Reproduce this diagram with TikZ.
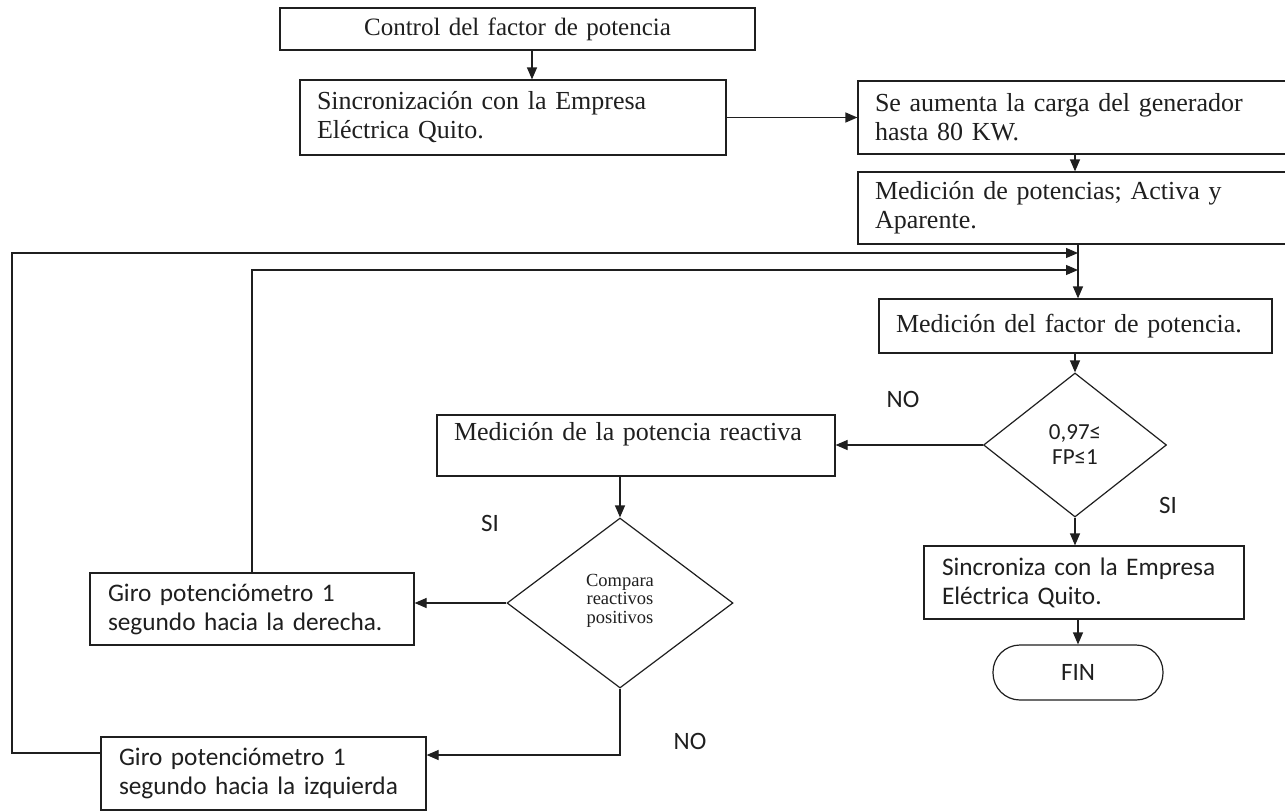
\documentclass[tikz,border=0pt]{standalone}
\usepackage{fontspec}
\setmainfont{Liberation Serif}
\newfontfamily\calibri{Carlito}
\usetikzlibrary{arrows.meta,shapes.geometric}
\begin{document}
\begin{tikzpicture}[x=1pt,y=-1pt,
  line width=1.2pt, color=black!88,
  arr/.style={-{Triangle[length=12pt,width=10pt]}},
  box/.style={draw, rectangle, inner xsep=17pt, inner ysep=0pt, align=left,
    font=\fontsize{26}{29}\selectfont},
  sbox/.style={box, inner xsep=18pt, font=\calibri\fontsize{25.3}{29}\selectfont},
  dec/.style={draw, diamond, inner sep=0pt, align=center},
  lbl/.style={font=\calibri\fontsize{25}{25}\selectfont}
]
\fill[white] (0,0) rectangle (1285,811);
\useasboundingbox (0,0) rectangle (1285,811);

% process boxes
\node[box, text width=441pt, minimum height=42pt, align=center,
  font=\fontsize{25}{29}\selectfont] (b1) at (517.5,29) {Control del factor de potencia};
\node[box, text width=392pt, minimum height=75pt] (b2) at (513,117.5) {\mbox{Sincronización con la Empresa}\\\mbox{Eléctrica Quito.}};
\node[box, text width=408pt, minimum height=73pt] (b3) at (1079,117.5) {\mbox{Se aumenta la carga del generador}\\\mbox{hasta 80 KW.}};
\node[box, text width=408pt, minimum height=72pt] (b4) at (1079,208) {\mbox{Medición de potencias; Activa y}\\\mbox{Aparente.}};
\node[box, text width=359pt, minimum height=54pt] (b5) at (1075.5,326) {\mbox{Medición del factor de potencia.}};
\node[box, text width=364pt, minimum height=61pt, text height=18pt, text depth=29pt] (b6) at (636,445.5) {\mbox{Medición de la potencia reactiva}};
\node[sbox, text width=288pt, minimum height=72pt] (b7) at (252,609) {\mbox{Giro potenciómetro 1}\\\mbox{segundo hacia la derecha.}};
\node[sbox, text width=289pt, minimum height=73pt] (b8) at (263.5,773.5) {\mbox{Giro potenciómetro 1}\\\mbox{segundo hacia la izquierda}};
\node[sbox, text width=284pt, minimum height=73pt] (b9) at (1084,582.5) {\mbox{Sincroniza con la Empresa}\\\mbox{Eléctrica Quito.}};
\node[draw, rounded corners=27pt, minimum width=170pt, minimum height=55pt,
  font=\calibri\fontsize{25}{25}\selectfont] (fin) at (1078,672.5) {FIN};

% decisions
\node[dec, minimum width=183pt, minimum height=144pt,
  font=\calibri\fontsize{23}{25}\selectfont] (d1) at (1075,445) {0,97≤\\FP≤1};
\node[dec, minimum width=226pt, minimum height=170pt,
  font=\fontsize{18.5}{18.5}\selectfont] (d2) at (620,603) {Compara\\reactivos\\positivos\\[-10pt]\mbox{}};

% branch labels
\node[lbl] (no1) at (903,399) {NO};
\node[lbl] (si1) at (1168,505) {SI};
\node[lbl] (si2) at (490,523) {SI};
\node[lbl] (no2) at (690,741) {NO};

% junction points of the return loops
\coordinate (m1) at (1078,253);
\coordinate (m2) at (1078,270);
\coordinate (lc) at (12,253);

% connectors
\draw[arr] ([xshift=14.5pt]b1.south) -- ([xshift=14.5pt]b1.south |- b2.north);
\draw[arr] (b2.east) -- (b2.east -| b3.west);
\draw[arr] ([xshift=-4pt]b3.south) -- ([xshift=-4pt]b3.south |- b4.north);
\draw[arr] (b4.south -| m1) -- (b5.north -| m1);
\draw[arr] ([yshift=20.5pt]b8.west) -| (lc) -- (m1);
\draw[arr] (b7.north) |- (m2);
\draw[arr] (d1.north |- b5.south) -- (d1.north);
\draw[arr] (d1.west) -- (d1.west -| b6.east);
\draw[arr] (d2.north |- b6.south) -- (d2.north);
\draw[arr] (d2.west) -- (d2.west -| b7.east);
\draw[arr] (d2.south) |- ([yshift=18.5pt]b8.east);
\draw[arr] (d1.south) -- (d1.south |- b9.north);
\draw[arr] (fin.north |- b9.south) -- (fin.north);
\end{tikzpicture}
\end{document}
